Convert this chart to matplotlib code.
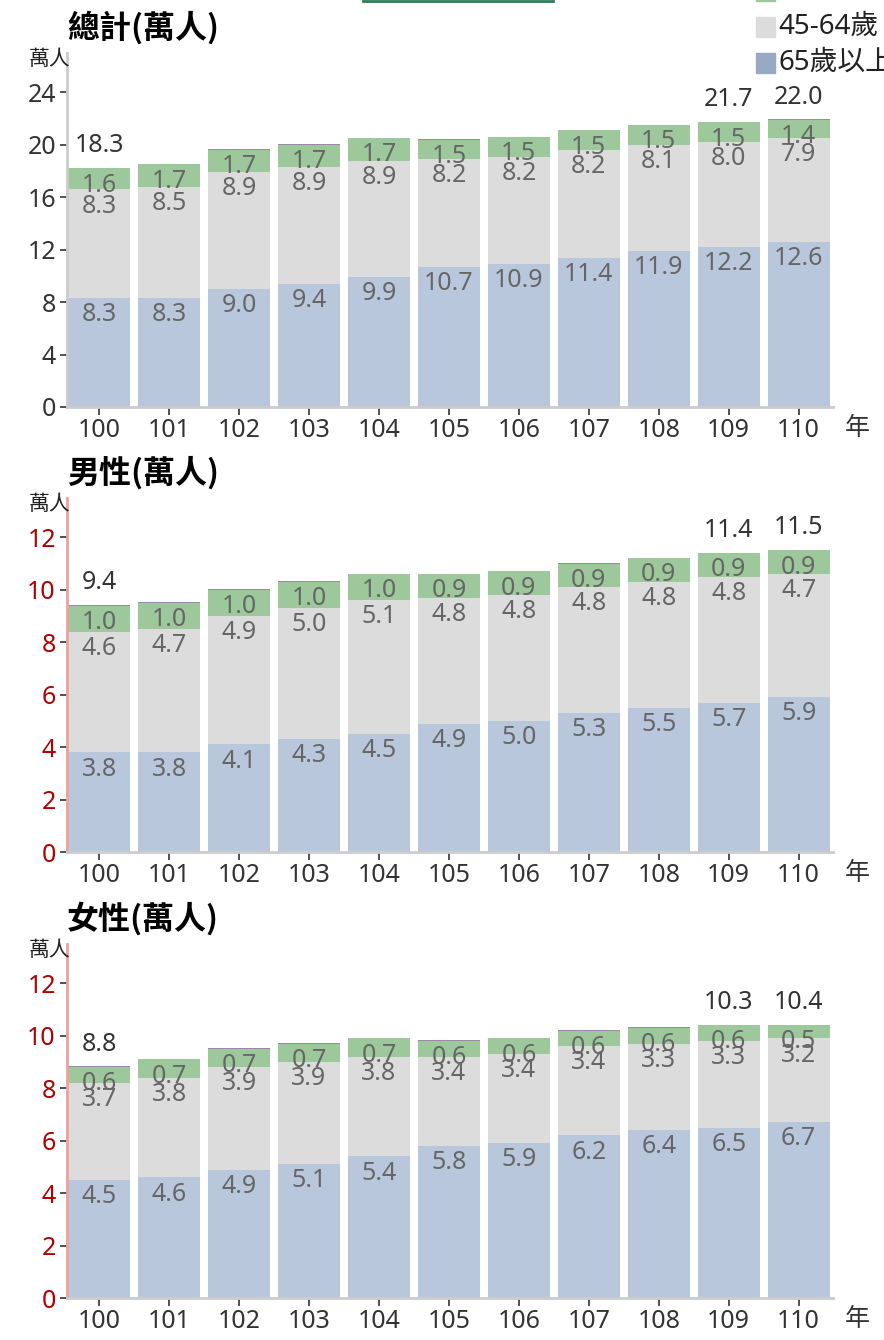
import matplotlib
matplotlib.use("Agg")
import matplotlib.pyplot as plt
from matplotlib.patches import Rectangle
from matplotlib.lines import Line2D

plt.rcParams["font.family"] = ["Noto Sans", "Noto Sans CJK TC", "DejaVu Sans"]

years = ["100", "101", "102", "103", "104", "105", "106", "107", "108", "109", "110"]
series_names = ["15-44歲", "45-64歲", "65歲以上"]

# 總計
total_65 = [8.3, 8.3, 9.0, 9.4, 9.9, 10.7, 10.9, 11.4, 11.9, 12.2, 12.6]
total_45 = [8.3, 8.5, 8.9, 8.9, 8.9, 8.2, 8.2, 8.2, 8.1, 8.0, 7.9]
total_15 = [1.6, 1.7, 1.7, 1.7, 1.7, 1.5, 1.5, 1.5, 1.5, 1.5, 1.4]
total_top = [0.05, 0.05, 0.04, 0.04, 0.04, 0.03, 0.03, 0.03, 0.03, 0.03, 0.03]
total_sum = {0: 18.3, 9: 21.7, 10: 22.0}

# 男性
male_65 = [3.8, 3.8, 4.1, 4.3, 4.5, 4.9, 5.0, 5.3, 5.5, 5.7, 5.9]
male_45 = [4.6, 4.7, 4.9, 5.0, 5.1, 4.8, 4.8, 4.8, 4.8, 4.8, 4.7]
male_15 = [1.0, 1.0, 1.0, 1.0, 1.0, 0.9, 0.9, 0.9, 0.9, 0.9, 0.9]
male_top = [0.03, 0.03, 0.02, 0.02, 0.02, 0.02, 0.02, 0.02, 0.02, 0.02, 0.02]
male_sum = {0: 9.4, 9: 11.4, 10: 11.5}

# 女性
female_65 = [4.5, 4.6, 4.9, 5.1, 5.4, 5.8, 5.9, 6.2, 6.4, 6.5, 6.7]
female_45 = [3.7, 3.8, 3.9, 3.9, 3.8, 3.4, 3.4, 3.4, 3.3, 3.3, 3.2]
female_15 = [0.6, 0.7, 0.7, 0.7, 0.7, 0.6, 0.6, 0.6, 0.6, 0.6, 0.5]
female_top = [0.03, 0.03, 0.02, 0.02, 0.02, 0.02, 0.02, 0.02, 0.02, 0.02, 0.02]
female_sum = {0: 8.8, 9: 10.3, 10: 10.4}

C_BLUE = "#b8c7db"
C_GRAY = "#dcdcdc"
C_GREEN = "#9dc89b"
C_TOP = "#9a8aa6"
LEGEND_COLORS = ["#9dc89b", "#dcdcdc", "#97aac3"]

W, H = 884, 1340
FS = 18
CJK = ["Noto Sans CJK TC", "DejaVu Sans"]


def draw_panel(fig, top_px, bottom_px, title, v65, v45, v15, vtop, sums,
               ymax, step, tick_color, spine_color):
    ax = fig.add_axes([67 / W, 1 - bottom_px / H, 766 / W, (bottom_px - top_px) / H])
    x = list(range(len(years)))
    width = 0.886
    ax.bar(x, v65, width, color=C_BLUE)
    b45 = v65
    ax.bar(x, v45, width, bottom=b45, color=C_GRAY)
    b15 = [a + b for a, b in zip(v65, v45)]
    ax.bar(x, v15, width, bottom=b15, color=C_GREEN)
    btop = [a + b for a, b in zip(b15, v15)]
    ax.bar(x, vtop, width, bottom=btop, color=C_TOP)

    for i in x:
        for val, base in ((v65[i], 0), (v45[i], b45[i]), (v15[i], b15[i])):
            ax.annotate(f"{val:.1f}", (i, base + val), xytext=(0, -12),
                        textcoords="offset points", ha="center", va="center",
                        fontsize=FS, color="#666666")
        if i in sums:
            ax.annotate(f"{sums[i]:.1f}", (i, btop[i] + vtop[i]), xytext=(0, 16),
                        textcoords="offset points", ha="center", va="center",
                        fontsize=FS, color="#333333")

    ax.set_xlim(-0.46, 10.49)
    ax.set_ylim(0, ymax * 1.125)
    ax.set_yticks(range(0, ymax + 1, step))
    ax.set_xticks(x)
    ax.set_xticklabels(years)
    ax.tick_params(axis="y", labelsize=FS, labelcolor=tick_color, color="#333333",
                   length=5, width=1.2, pad=3)
    ax.tick_params(axis="x", labelsize=FS, labelcolor="#333333", color="#333333",
                   length=6, width=1.2, pad=2)
    for s in ("top", "right"):
        ax.spines[s].set_visible(False)
    ax.spines["left"].set_color(spine_color)
    ax.spines["left"].set_linewidth(2)
    ax.spines["bottom"].set_color("#cccccc")
    ax.spines["bottom"].set_linewidth(2)
    ax.text(1.032, -21 / (bottom_px - top_px), "年", transform=ax.transAxes,
            ha="center", va="center", fontsize=FS, color="#333333", family=CJK)

    fig.text(67 / W, 1 - (top_px - 25) / H, title, fontsize=23, fontweight="bold",
             ha="left", va="center", color="#000000", family=CJK)
    fig.text(71 / W, 1 - (top_px + 6) / H, "萬人", fontsize=15,
             ha="right", va="center", color="#222222", family=CJK)
    return ax


def draw_legend(fig):
    # legend sits partly above the top edge, as in the source image
    for k, (name, color) in enumerate(zip(series_names, LEGEND_COLORS)):
        yc = -9 + 36 * k
        fig.add_artist(Rectangle((756 / W, 1 - (yc + 10) / H), 19 / W, 20 / H,
                                 color=color, transform=fig.transFigure))
        fig.text(778 / W, 1 - yc / H, name, fontsize=20, ha="left", va="center",
                 color="#222222")


def main():
    fig = plt.figure(figsize=(W / 100, H / 100), dpi=100)

    draw_panel(fig, 53, 407, "總計(萬人)", total_65, total_45, total_15, total_top,
               total_sum, 24, 4, "#333333", "#cccccc")
    draw_panel(fig, 498, 852, "男性(萬人)", male_65, male_45, male_15, male_top,
               male_sum, 12, 2, "#b00000", "#f0a0a0")
    draw_panel(fig, 944, 1298, "女性(萬人)", female_65, female_45, female_15, female_top,
               female_sum, 12, 2, "#b00000", "#f0a0a0")

    draw_legend(fig)

    fig.add_artist(Line2D([363 / W, 553 / W], [1 - 0.5 / H, 1 - 0.5 / H],
                          color="#2e7d5a", linewidth=2, transform=fig.transFigure))

    fig.savefig("out.png", dpi=100)


if __name__ == "__main__":
    main()
